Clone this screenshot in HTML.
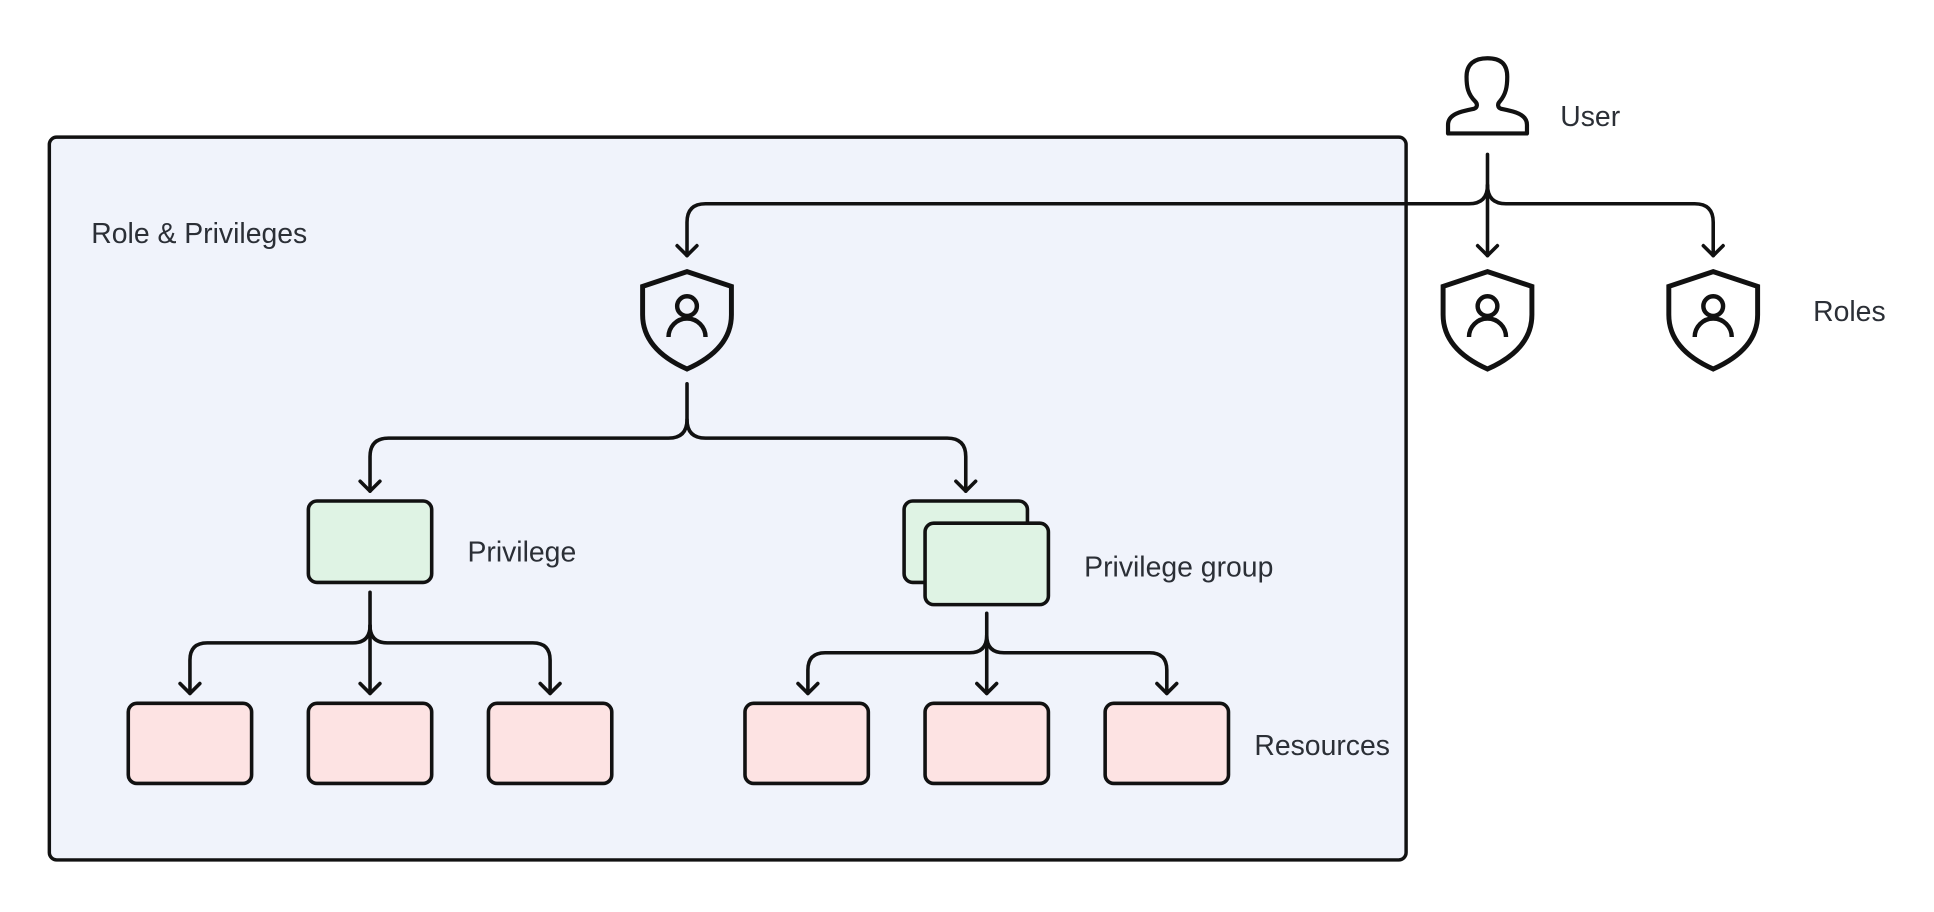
<!DOCTYPE html>
<html><head><meta charset="utf-8"><style>
html,body{margin:0;padding:0;background:#fff;}
svg{display:block;}
text{font-family:"Liberation Sans",sans-serif;fill:#2b2f36;font-size:23px;}
</style></head><body>
<svg width="1934" height="912" viewBox="0 0 1568 739" xmlns="http://www.w3.org/2000/svg">
<rect x="40" y="111" width="1100" height="586" rx="6" fill="#f0f3fb" stroke="#111" stroke-width="2.8"/>
<text x="74" y="197">Role &amp; Privileges</text>
<text x="1265" y="102">User</text>
<text x="1470" y="260">Roles</text>
<text x="379" y="455">Privilege</text>
<text x="879" y="467">Privilege group</text>
<text x="1017" y="612">Resources</text>

<!-- user icon -->
<path d="M1174 108 V101 C1174 92 1185 90 1195 88 C1198 87 1198 84 1196 82 C1190 76 1189 70 1189 62 C1189 52 1195 47 1206 47 C1217 47 1222 52 1222 62 C1222 70 1221 76 1216 82 C1214 84 1214 87 1217 88 C1227 90 1238 92 1238 101 V108 Z" fill="none" stroke="#111" stroke-width="3.4" stroke-linejoin="round"/>

<g fill="none" stroke="#111" stroke-width="2.9" stroke-linecap="round" stroke-linejoin="round">
<path d="M1206 125 V150 Q1206 165 1191 165 H572 Q557 165 557 180 V207"/>
<path d="M1206 150 Q1206 165 1221 165 H1374 Q1389 165 1389 180 V207"/>
<path d="M1206 150 V207"/>
<path d="M549 199 L557 207 L565 199 M1198 199 L1206 207 L1214 199 M1381 199 L1389 207 L1397 199"/>
<path d="M557 311 V340 Q557 355 542 355 H315 Q300 355 300 370 V398"/>
<path d="M557 340 Q557 355 572 355 H768 Q783 355 783 370 V398"/>
<path d="M292 390 L300 398 L308 390 M775 390 L783 398 L791 390"/>
<path d="M300 480 V507 Q300 521 286 521 H168 Q154 521 154 535 V562"/>
<path d="M300 507 Q300 521 314 521 H432 Q446 521 446 535 V562"/>
<path d="M300 507 V562"/>
<path d="M146 554 L154 562 L162 554 M292 554 L300 562 L308 554 M438 554 L446 562 L454 554"/>
<path d="M800 497 V515 Q800 529 786 529 H669 Q655 529 655 543 V562"/>
<path d="M800 515 Q800 529 814 529 H932 Q946 529 946 543 V562"/>
<path d="M800 515 V562"/>
<path d="M647 554 L655 562 L663 554 M792 554 L800 562 L808 554 M938 554 L946 562 L954 554"/>
</g>

<g fill="none" stroke="#111">
<g transform="translate(557,0)">
<path d="M0 220 L36 232 V255 C36 278 18 291 0 299 C-18 291 -36 278 -36 255 V232 Z" stroke-width="4"/>
<circle cx="0" cy="248" r="8" stroke-width="3.6"/>
<path d="M-15 273 A15 15 0 0 1 15 273" stroke-width="3.6"/>
</g>
<g transform="translate(1206,0)">
<path d="M0 220 L36 232 V255 C36 278 18 291 0 299 C-18 291 -36 278 -36 255 V232 Z" stroke-width="4"/>
<circle cx="0" cy="248" r="8" stroke-width="3.6"/>
<path d="M-15 273 A15 15 0 0 1 15 273" stroke-width="3.6"/>
</g>
<g transform="translate(1389,0)">
<path d="M0 220 L36 232 V255 C36 278 18 291 0 299 C-18 291 -36 278 -36 255 V232 Z" stroke-width="4"/>
<circle cx="0" cy="248" r="8" stroke-width="3.6"/>
<path d="M-15 273 A15 15 0 0 1 15 273" stroke-width="3.6"/>
</g>
</g>

<g stroke="#111" stroke-width="2.9">
<rect x="250" y="406" width="100" height="66" rx="7" fill="#dff3e4"/>
<rect x="733" y="406" width="100" height="66" rx="7" fill="#dff3e4"/>
<rect x="750" y="424" width="100" height="66" rx="7" fill="#dff3e4"/>
<rect x="104" y="570" width="100" height="65" rx="7" fill="#fde3e3"/>
<rect x="250" y="570" width="100" height="65" rx="7" fill="#fde3e3"/>
<rect x="396" y="570" width="100" height="65" rx="7" fill="#fde3e3"/>
<rect x="604" y="570" width="100" height="65" rx="7" fill="#fde3e3"/>
<rect x="750" y="570" width="100" height="65" rx="7" fill="#fde3e3"/>
<rect x="896" y="570" width="100" height="65" rx="7" fill="#fde3e3"/>
</g>
</svg>
</body></html>
